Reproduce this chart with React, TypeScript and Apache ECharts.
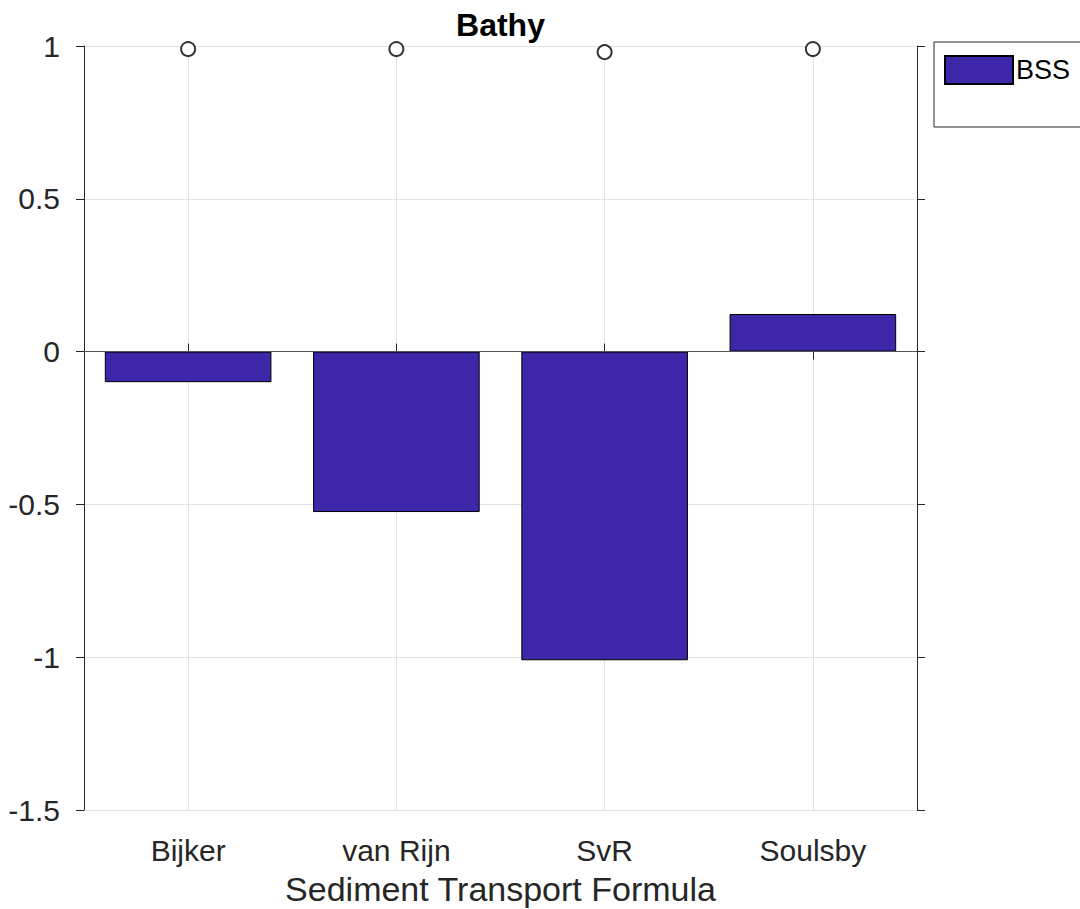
import React, { useEffect, useRef } from "react";
import * as echarts from "echarts";

// Brier skill score per sediment transport formula
const formulas = ["Bijker", "van Rijn", "SvR", "Soulsby"];
const bssValues = [-0.1, -0.525, -1.01, 0.123];
// Correlation markers near the top of the axes
const corrValues = [0.99, 0.99, 0.98, 0.99];
const yTicks = { min: -1.5, max: 1, step: 0.5 };

const FONT = "'Liberation Sans', Arial, Helvetica, sans-serif";
const INK = "#262626";
const GRID = "#e3e3e3";
const BAR = "#3e26a8";

export default function App() {
  const ref = useRef<HTMLDivElement>(null);

  useEffect(() => {
    if (!ref.current) return;
    const chart = echarts.init(ref.current, null, { renderer: "svg" });
    const left = 84;
    const top = 46;
    const width = 833;
    const height = 764;

    chart.setOption({
      animation: false,
      backgroundColor: "#ffffff",
      textStyle: { fontFamily: FONT },
      grid: { left, top, width, height, containLabel: false, outerBoundsMode: "none" },
      graphic: [
        {
          type: "text",
          x: left + width / 2,
          y: 25,
          style: {
            text: "Bathy",
            font: `bold 32px ${FONT}`,
            fill: "#000",
            textAlign: "center",
            textVerticalAlign: "middle",
          },
        },
        {
          type: "rect",
          shape: { x: 934, y: 42, width: 170, height: 85 },
          style: { fill: "#fff", stroke: INK, lineWidth: 1 },
          z: 0,
        },
      ],
      legend: {
        data: [{ name: "BSS", icon: "rect" }],
        left: 944,
        top: 55,
        orient: "vertical",
        itemWidth: 68,
        itemHeight: 28,
        itemGap: 6,
        padding: 0,
        z: 10,
        textStyle: { fontSize: 27, color: "#000", fontFamily: FONT, padding: [0, 0, 0, -2] },
      },
      xAxis: [
        {
          type: "category",
          data: formulas,
          boundaryGap: true,
          name: "Sediment Transport Formula",
          nameLocation: "middle",
          nameGap: 62,
          nameTextStyle: { fontSize: 34, color: INK, fontFamily: FONT, verticalAlign: "top" },
          axisLine: { show: true, lineStyle: { color: INK, width: 1 } },
          axisTick: { show: true, alignWithLabel: true, inside: false, length: 8, lineStyle: { color: INK } },
          axisLabel: { fontSize: 30, color: INK, margin: 25, fontFamily: FONT },
          splitLine: { show: false },
        },
        {
          type: "category",
          data: formulas,
          position: "top",
          boundaryGap: true,
          axisLine: { show: true, lineStyle: { color: INK, width: 1 } },
          axisTick: { show: true, alignWithLabel: true, inside: false, length: 8, lineStyle: { color: INK } },
          axisLabel: { show: false },
          splitLine: { show: false },
        },
      ],
      yAxis: [
        {
          type: "value",
          min: yTicks.min,
          max: yTicks.max,
          interval: yTicks.step,
          axisLine: { show: true, lineStyle: { color: INK, width: 1 } },
          axisTick: { show: true, inside: false, length: 8, lineStyle: { color: INK } },
          axisLabel: { fontSize: 30, color: INK, margin: 24, fontFamily: FONT },
          splitLine: { show: true, lineStyle: { color: GRID, width: 1 } },
        },
        {
          type: "value",
          position: "right",
          min: yTicks.min,
          max: yTicks.max,
          interval: yTicks.step,
          axisLine: { show: true, lineStyle: { color: INK, width: 1 } },
          axisTick: { show: true, inside: false, length: 8, lineStyle: { color: INK } },
          axisLabel: { show: false },
          splitLine: { show: false },
        },
      ],
      series: [
        {
          // vertical grid lines at each formula
          name: "grid",
          type: "scatter",
          data: [],
          z: 0,
          silent: true,
          markLine: {
            silent: true,
            z: 0,
            symbol: "none",
            label: { show: false },
            lineStyle: { color: GRID, width: 1, type: "solid" },
            data: formulas.map((f) => ({ xAxis: f })),
          },
        },
        {
          name: "BSS",
          type: "bar",
          data: bssValues,
          barWidth: "80%",
          z: 2,
          itemStyle: { color: BAR, borderColor: "#000", borderWidth: 1 },
          markLine: {
            silent: true,
            z: 3,
            symbol: "none",
            label: { show: false },
            lineStyle: { color: "#555", width: 1, type: "solid" },
            data: [{ yAxis: 0 }],
          },
        },
        {
          name: "r",
          type: "scatter",
          data: corrValues,
          symbol: "emptyCircle",
          symbolSize: 14,
          z: 5,
          itemStyle: { color: "#000", borderColor: "#000", borderWidth: 1.2 },
        },
      ],
    });

    return () => chart.dispose();
  }, []);

  return (
    <div
      ref={ref}
      style={{ position: "absolute", left: 0, top: 0, width: 1080, height: 909 }}
    />
  );
}
